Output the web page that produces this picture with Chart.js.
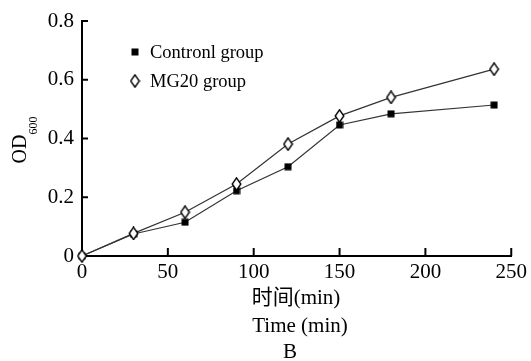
<!DOCTYPE html>
<html><head><meta charset="utf-8">
<script src="https://cdn.jsdelivr.net/npm/chart.js@4"></script>
<style>html,body{margin:0;padding:0;background:#fff}#w{width:531px;height:361px;position:relative}</style>
</head><body><div id="w"><canvas id="c"></canvas></div>
<script>
const times = [0, 30, 60, 90, 120, 150, 180, 240];
const controlOD = [0, 0.075, 0.115, 0.222, 0.304, 0.446, 0.484, 0.514];
const mg20OD = [0, 0.077, 0.149, 0.245, 0.381, 0.477, 0.540, 0.636];
const seriesNames = ['Contronl group', 'MG20 group'];
const xTickValues = [0, 50, 100, 150, 200, 250];
const yTickValues = [0, 0.2, 0.4, 0.6, 0.8];
const xTitleLines = ['时间(min)', 'Time (min)', 'B'];
const yTitleMain = 'OD';
const yTitleSub = '600';

const SERIF = "'Liberation Serif', 'Times New Roman', 'Noto Sans CJK SC', serif";

function makeSquare() {
  const c = document.createElement('canvas'); c.width = 8; c.height = 8;
  const g = c.getContext('2d'); g.fillStyle = '#000'; g.fillRect(0.5, 0.5, 7, 7);
  return c;
}
function makeDiamond() {
  const c = document.createElement('canvas'); c.width = 11; c.height = 14;
  const g = c.getContext('2d');
  g.beginPath(); g.moveTo(5.5, 0.8); g.lineTo(9.8, 7); g.lineTo(5.5, 13.2); g.lineTo(1.2, 7); g.closePath();
  g.fillStyle = '#fff'; g.fill(); g.lineWidth = 1.4; g.strokeStyle = '#000'; g.stroke();
  return c;
}
const sq = makeSquare(), dia = makeDiamond();

const toXY = (xs, ys) => xs.map((x, i) => ({x, y: ys[i]}));

const decor = {
  id: 'decor',
  afterDraw(chart) {
    const ctx = chart.ctx, xs = chart.scales.x, ys = chart.scales.y, a = chart.chartArea;
    ctx.save();
    ctx.strokeStyle = '#000'; ctx.lineWidth = 2;
    xTickValues.forEach(v => {
      if (v === 0) return;
      const px = xs.getPixelForValue(v);
      ctx.beginPath(); ctx.moveTo(px, a.bottom); ctx.lineTo(px, a.bottom - 8); ctx.stroke();
    });
    yTickValues.forEach(v => {
      if (v === 0) return;
      const py = ys.getPixelForValue(v);
      ctx.beginPath(); ctx.moveTo(a.left, py); ctx.lineTo(a.left + 6, py); ctx.stroke();
    });
    // legend
    const items = [[sq, seriesNames[0], 52], [dia, seriesNames[1], 81]];
    ctx.fillStyle = '#000';
    ctx.font = "18.5px " + SERIF;
    ctx.textBaseline = 'middle'; ctx.textAlign = 'left';
    items.forEach(([img, label, y]) => {
      ctx.drawImage(img, 135 - img.width / 2, y - img.height / 2);
      ctx.fillText(label, 150, y + 1);
    });
    // x titles
    ctx.font = "21px " + SERIF; ctx.textAlign = 'center';
    ctx.fillText(xTitleLines[0], 296, 298);
    ctx.fillText(xTitleLines[1], 300, 326);
    ctx.fillText(xTitleLines[2], 290, 352);
    // y title with subscript
    ctx.textBaseline = 'alphabetic';
    ctx.translate(26, 140); ctx.rotate(-Math.PI / 2);
    ctx.font = "20px " + SERIF;
    const wMain = ctx.measureText(yTitleMain).width;
    ctx.font = "12px " + SERIF;
    const wSub = ctx.measureText(yTitleSub).width;
    const start = -(wMain + wSub) / 2;
    ctx.textAlign = 'left';
    ctx.font = "20px " + SERIF;
    ctx.fillText(yTitleMain, start, 0);
    ctx.font = "12px " + SERIF;
    ctx.fillText(yTitleSub, start + wMain, 11);
    ctx.restore();
  }
};

new Chart(document.getElementById('c'), {
  type: 'line',
  data: {
    datasets: [
      { label: seriesNames[0], data: toXY(times, controlOD), borderColor: '#333', borderWidth: 1.2,
        pointStyle: sq, backgroundColor: '#000', tension: 0, order: 1, clip: false },
      { label: seriesNames[1], data: toXY(times, mg20OD), borderColor: '#333', borderWidth: 1.2,
        pointStyle: dia, backgroundColor: '#fff', tension: 0, order: 0, clip: false }
    ]
  },
  options: {
    responsive: true, maintainAspectRatio: false, animation: false,
    layout: { padding: { left: 0, top: 21, right: 4, bottom: 0 } },
    plugins: { legend: { display: false }, tooltip: { enabled: false } },
    scales: {
      x: {
        type: 'linear', min: 0, max: 250,
        afterBuildTicks: s => { s.ticks = xTickValues.map(v => ({value: v})); },
        afterFit: s => { s.height = 105; },
        grid: { display: false, drawTicks: false },
        border: { display: true, color: '#000', width: 2 },
        ticks: { color: '#000', font: { family: SERIF, size: 21 }, padding: 4, maxRotation: 0 }
      },
      y: {
        min: 0, max: 0.8,
        afterBuildTicks: s => { s.ticks = yTickValues.map(v => ({value: v})); },
        afterFit: s => { s.width = 82; },
        grid: { display: false, drawTicks: false },
        border: { display: true, color: '#000', width: 2 },
        ticks: { color: '#000', font: { family: SERIF, size: 21 }, padding: 8,
          callback: v => v === 0 ? '0' : v.toFixed(1) }
      }
    }
  },
  plugins: [decor]
});
</script>
</body></html>
